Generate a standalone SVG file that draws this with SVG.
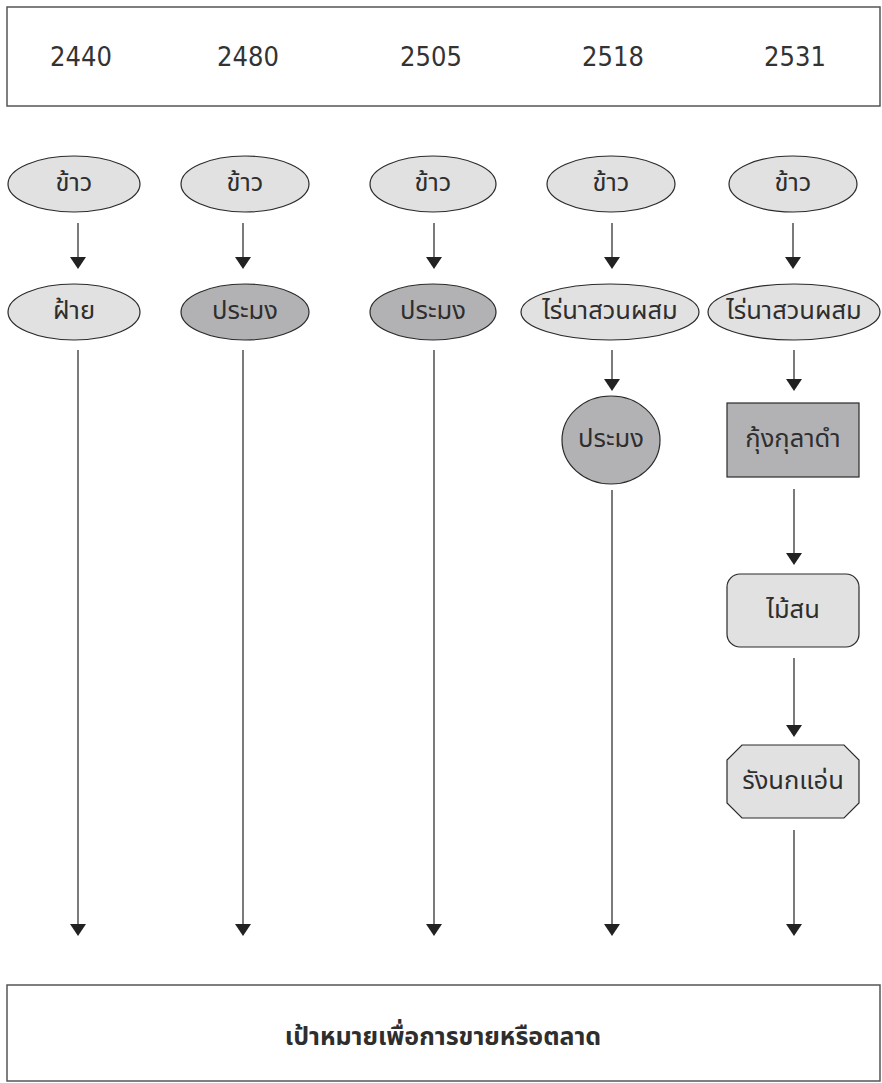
<svg xmlns="http://www.w3.org/2000/svg" width="882" height="1083" viewBox="0 0 882 1083">
<defs>
<style>
.box{fill:#fff;stroke:#555;stroke-width:1.5}
.lt{fill:#e1e1e2;stroke:#2a2a2a;stroke-width:1.2}
.dk{fill:#b2b2b4;stroke:#2a2a2a;stroke-width:1.2}
.t{font-family:"Noto Sans Thai","Noto Sans","DejaVu Sans",sans-serif;font-size:25.5px;fill:#2e2e2e;text-anchor:middle;dominant-baseline:central}
.yr{font-family:"Liberation Sans Narrow","DejaVu Sans Condensed","Liberation Sans",sans-serif;font-size:27px;fill:#333;text-anchor:middle;dominant-baseline:central}
.b{font-weight:bold;font-size:25px}
.ln{stroke:#333;stroke-width:1.3;fill:none}
.ah{fill:#222}
</style>
</defs>
<g id="years">
<rect class="box" x="7" y="7" width="873" height="99"/>
<text class="yr" x="81" y="56">2440</text>
<text class="yr" x="248" y="56">2480</text>
<text class="yr" x="431" y="56">2505</text>
<text class="yr" x="613" y="56">2518</text>
<text class="yr" x="795" y="56">2531</text>
</g>
<g id="connectors">
<line class="ln" x1="78" y1="223" x2="78" y2="259"/><polygon class="ah" points="70,257 86,257 78,269"/>
<line class="ln" x1="243" y1="223" x2="243" y2="259"/><polygon class="ah" points="235,257 251,257 243,269"/>
<line class="ln" x1="434" y1="223" x2="434" y2="259"/><polygon class="ah" points="426,257 442,257 434,269"/>
<line class="ln" x1="612" y1="223" x2="612" y2="259"/><polygon class="ah" points="604,257 620,257 612,269"/>
<line class="ln" x1="793" y1="223" x2="793" y2="259"/><polygon class="ah" points="785,257 801,257 793,269"/>
<line class="ln" x1="78" y1="350" x2="78" y2="926"/><polygon class="ah" points="70,924 86,924 78,936"/>
<line class="ln" x1="243" y1="350" x2="243" y2="926"/><polygon class="ah" points="235,924 251,924 243,936"/>
<line class="ln" x1="434" y1="350" x2="434" y2="926"/><polygon class="ah" points="426,924 442,924 434,936"/>
<line class="ln" x1="612" y1="350" x2="612" y2="381"/><polygon class="ah" points="604,379 620,379 612,391"/>
<line class="ln" x1="612" y1="490" x2="612" y2="926"/><polygon class="ah" points="604,924 620,924 612,936"/>
<line class="ln" x1="794" y1="350" x2="794" y2="381"/><polygon class="ah" points="786,379 802,379 794,391"/>
<line class="ln" x1="794" y1="489" x2="794" y2="555"/><polygon class="ah" points="786,553 802,553 794,565"/>
<line class="ln" x1="794" y1="658" x2="794" y2="727"/><polygon class="ah" points="786,725 802,725 794,737"/>
<line class="ln" x1="794" y1="830" x2="794" y2="926"/><polygon class="ah" points="786,924 802,924 794,936"/>
</g>
<g id="c1-rice"><ellipse class="lt" cx="74" cy="184" rx="66" ry="28"/><text class="t" x="74" y="183">ข้าว</text></g>
<g id="c2-rice"><ellipse class="lt" cx="245" cy="184" rx="64" ry="28"/><text class="t" x="245" y="183">ข้าว</text></g>
<g id="c3-rice"><ellipse class="lt" cx="433" cy="184" rx="63" ry="28"/><text class="t" x="433" y="183">ข้าว</text></g>
<g id="c4-rice"><ellipse class="lt" cx="611" cy="184" rx="64" ry="28"/><text class="t" x="611" y="183">ข้าว</text></g>
<g id="c5-rice"><ellipse class="lt" cx="793" cy="184" rx="64" ry="28"/><text class="t" x="793" y="183">ข้าว</text></g>
<g id="c1-cotton"><ellipse class="lt" cx="74" cy="312" rx="66" ry="28"/><text class="t" x="74" y="311">ฝ้าย</text></g>
<g id="c2-fishery"><ellipse class="dk" cx="245" cy="312" rx="64" ry="28"/><text class="t" x="245" y="311">ประมง</text></g>
<g id="c3-fishery"><ellipse class="dk" cx="433" cy="312" rx="63" ry="28"/><text class="t" x="433" y="311">ประมง</text></g>
<g id="c4-mixed"><ellipse class="lt" cx="610" cy="312" rx="89" ry="28"/><text class="t" x="610" y="311">ไร่นาสวนผสม</text></g>
<g id="c5-mixed"><ellipse class="lt" cx="794" cy="312" rx="86" ry="28"/><text class="t" x="794" y="311">ไร่นาสวนผสม</text></g>
<g id="c4-fishery"><ellipse class="dk" cx="611" cy="440" rx="49" ry="44"/><text class="t" x="611" y="439">ประมง</text></g>
<g id="c5-shrimp"><rect class="dk" x="727" y="403" width="132" height="74"/><text class="t" x="793" y="439">กุ้งกุลาดำ</text></g>
<g id="c5-pine"><rect class="lt" x="727" y="574" width="132" height="73" rx="13"/><text class="t" x="793" y="610">ไม้สน</text></g>
<g id="c5-nest"><polygon class="lt" points="742,745 844,745 859,760 859,803 844,818 742,818 727,803 727,760"/><text class="t" x="793" y="781">รังนกแอ่น</text></g>
<g id="goal"><rect class="box" x="7" y="985" width="873" height="96"/><text class="t b" x="443" y="1037">เป้าหมายเพื่อการขายหรือตลาด</text></g>
</svg>
